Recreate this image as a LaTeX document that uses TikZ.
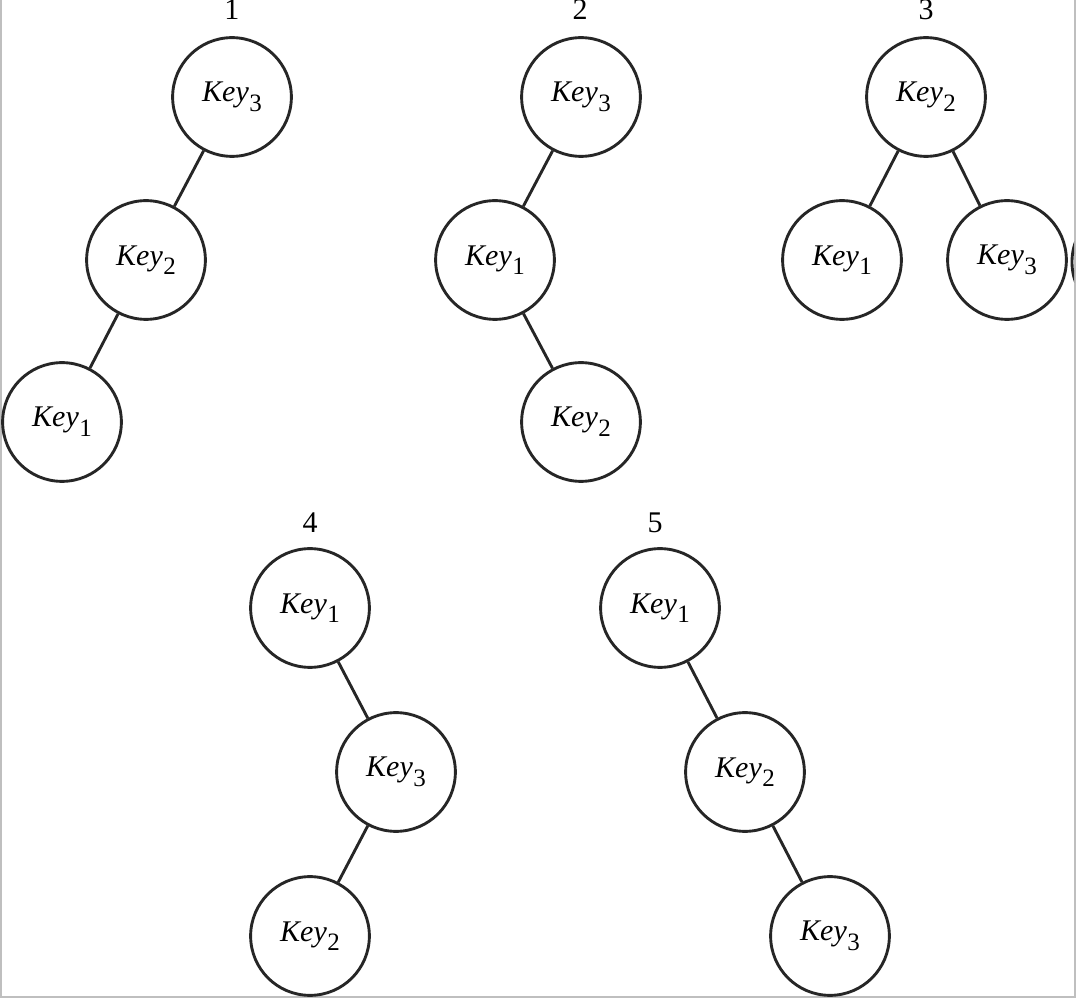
\documentclass[tikz,border=0pt]{standalone}
\usepackage{fontspec}
\setmainfont{Liberation Serif}
\newcommand{\keylab}[1]{\textit{Key}\kern0.2pt\raisebox{-0.7ex}{\normalsize #1}}
\begin{document}
\begin{tikzpicture}[x=0.4pt,y=-0.4pt,
  keynode/.style={circle,draw=black!85,line width=1.15pt,minimum size=47.5pt,inner sep=0pt,font=\large},
  edge/.style={draw=black!85,line width=1.15pt},
  numlab/.style={font=\large,inner sep=0pt},
  frame/.style={draw=black!25,line width=0.9pt}]
\useasboundingbox (0,0) rectangle (1076,999);
\draw[frame] (1,0) -- (1,997) -- (1075,997) -- (1075,0);
% tree 1
\node[numlab] (n1) at (232,10) {1};
\node[keynode] (a3) at (232,97) {\keylab{3}};
\node[keynode] (a2) at (146,260) {\keylab{2}};
\node[keynode] (a1) at (62,422) {\keylab{1}};
\draw[edge] (a3) -- (a2);
\draw[edge] (a2) -- (a1);
% tree 2
\node[numlab] (n2) at (580,10) {2};
\node[keynode] (b3) at (581,97) {\keylab{3}};
\node[keynode] (b1) at (495,260) {\keylab{1}};
\node[keynode] (b2) at (581,422) {\keylab{2}};
\draw[edge] (b3) -- (b1);
\draw[edge] (b1) -- (b2);
% tree 3
\node[numlab] (n3) at (926,10) {3};
\node[keynode] (c2) at (926,97) {\keylab{2}};
\node[keynode] (c1) at (842,260) {\keylab{1}};
\node[keynode] (c3) at (1007,260) {\keylab{3}};
\draw[edge] (c2) -- (c1);
\draw[edge] (c2) -- (c3);
% partial circle at right edge
\begin{scope}
\clip (0,0) rectangle (1074,999);
\draw[edge] (1132,262) circle[radius=60];
\end{scope}
% tree 4
\node[numlab] (n4) at (310,523) {4};
\node[keynode] (d1) at (310,608) {\keylab{1}};
\node[keynode] (d3) at (396,772) {\keylab{3}};
\node[keynode] (d2) at (310,936) {\keylab{2}};
\draw[edge] (d1) -- (d3);
\draw[edge] (d3) -- (d2);
% tree 5
\node[numlab] (n5) at (655,523) {5};
\node[keynode] (e1) at (660,608) {\keylab{1}};
\node[keynode] (e2) at (745,772) {\keylab{2}};
\node[keynode] (e3) at (830,936) {\keylab{3}};
\draw[edge] (e1) -- (e2);
\draw[edge] (e2) -- (e3);
\end{tikzpicture}
\end{document}
